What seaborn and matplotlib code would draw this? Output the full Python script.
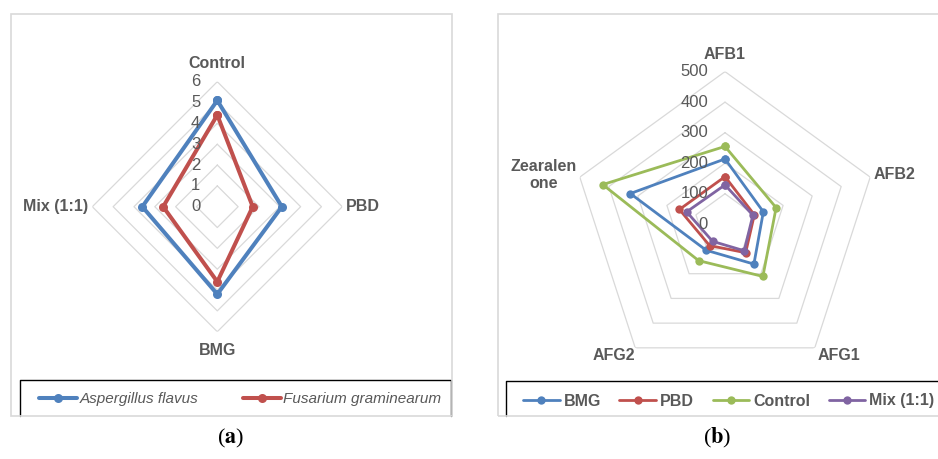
import numpy as np
import pandas as pd
import matplotlib
matplotlib.use("Agg")
import matplotlib.pyplot as plt
from matplotlib.lines import Line2D
from matplotlib.patches import Rectangle
import seaborn as sns

sns.set_theme(style="white")
plt.rcParams["font.family"] = ["Liberation Sans", "DejaVu Sans"]
plt.rcParams["mathtext.fontset"] = "stix"

# ---- data: panel (a) ----
cats_a = ["Control", "PBD", "BMG", "Mix (1:1)"]
aspergillus = [5.1, 3.1, 4.2, 3.6]
fusarium = [4.4, 1.7, 3.6, 2.6]
series_a = ["Aspergillus flavus", "Fusarium graminearum"]
ticks_a = [0, 1, 2, 3, 4, 5, 6]

# ---- data: panel (b) ----
cats_b = ["AFB1", "AFB2", "AFG1", "AFG2", "Zearalen\none"]
bmg = [214, 132, 161, 105, 326]
pbd = [156, 101, 115, 86, 157]
control = [255, 176, 211, 147, 421]
mix = [129, 96, 107, 69, 132]
series_b = ["BMG", "PBD", "Control", "Mix (1:1)"]
ticks_b = [0, 100, 200, 300, 400, 500]

BLUE, RED, GREEN, PURPLE = "#4F81BD", "#C0504D", "#9BBB59", "#8064A2"
GRID = "#D9D9D9"
TXT = "#595959"

W, H = 938, 459
fig = plt.figure(figsize=(W / 100, H / 100), dpi=100)


def fx(px):
    return px / W


def fy(py):
    return 1 - py / H


def long_frame(cats, series_names, values):
    """One row per vertex, repeating the first vertex at 2*pi to close each loop."""
    n = len(cats)
    rows = []
    for name, vals in zip(series_names, values):
        for i in range(n):
            rows.append((name, 2 * np.pi * i / n, vals[i]))
        rows.append((name, 2 * np.pi, vals[0]))
    return pd.DataFrame(rows, columns=["series", "theta", "value"])


def radar_axes(cx, cy, rad, rmax, ticks, n):
    ax = fig.add_axes([fx(cx - rad), fy(cy + rad), 2 * rad / W, 2 * rad / H],
                      projection="polar")
    ax.set_theta_offset(np.pi / 2)
    ax.set_theta_direction(-1)
    ax.set_ylim(0, rmax)
    ax.grid(False)
    ax.spines["polar"].set_visible(False)
    ax.set_xticks([])
    ax.set_yticks([])
    ax.patch.set_alpha(0)
    th = np.linspace(0, 2 * np.pi, n + 1)
    for t in ticks:
        if t > 0:
            ax.plot(th, [t] * (n + 1), color=GRID, lw=0.9, zorder=1)
        ax.annotate(str(t), xy=(0, t), xytext=(-17, 0), textcoords="offset pixels",
                    ha="right", va="center", fontsize=12, color=TXT, zorder=5)
    return ax


# ---- panel frames ----
fig.add_artist(Rectangle((fx(11), fy(416)), fx(452) - fx(11), fy(14) - fy(416),
                         transform=fig.transFigure, fill=False, ec=GRID, lw=1.2, zorder=10))
fig.add_artist(Rectangle((fx(498), fy(416)), fx(960) - fx(498), fy(14) - fy(416),
                         transform=fig.transFigure, fill=False, ec=GRID, lw=1.2, zorder=10))

# ---- panel (a) ----
ax_a = radar_axes(217.3, 206.7, 125, 6, ticks_a, len(cats_a))
df_a = long_frame(cats_a, series_a, [aspergillus, fusarium])
sns.lineplot(data=df_a, x="theta", y="value", hue="series", hue_order=series_a,
             palette=[BLUE, RED], sort=False, estimator=None, marker="o",
             markersize=6.5, markeredgewidth=0, linewidth=2.9, legend=False,
             ax=ax_a, zorder=3)
ax_a.set_xlabel("")
ax_a.set_ylabel("")
ax_a.set_ylim(0, 6)
lab_a = [((0, 11), "center", "bottom"), ((4, 0), "left", "center"),
         ((0, -11), "center", "top"), ((-4, 0), "right", "center")]
for i, (c, (off, ha, va)) in enumerate(zip(cats_a, lab_a)):
    ax_a.annotate(c, xy=(2 * np.pi * i / len(cats_a), 6), xytext=off,
                  textcoords="offset pixels", ha=ha, va=va, fontsize=11.5,
                  fontweight="bold", color=TXT, annotation_clip=False)

# ---- panel (b) ----
ax_b = radar_axes(725, 224.3, 152.7, 500, ticks_b, len(cats_b))
df_b = long_frame(cats_b, series_b, [bmg, pbd, control, mix])
sns.lineplot(data=df_b, x="theta", y="value", hue="series", hue_order=series_b,
             palette=[BLUE, RED, GREEN, PURPLE], sort=False, estimator=None,
             marker="o", markersize=6, markeredgewidth=0, linewidth=2.0,
             legend=False, ax=ax_b, zorder=3)
ax_b.set_xlabel("")
ax_b.set_ylabel("")
ax_b.set_ylim(0, 500)
lab_b = [((0, 10), "center", "bottom"), ((3, 3), "left", "center"),
         ((3, 0), "left", "top"), ((0, 0), "right", "top"), ((-3, 2), "right", "center")]
for i, (c, (off, ha, va)) in enumerate(zip(cats_b, lab_b)):
    ax_b.annotate(c, xy=(2 * np.pi * i / len(cats_b), 500), xytext=off,
                  textcoords="offset pixels", ha=ha, va=va, fontsize=11.5,
                  fontweight="bold", color=TXT, multialignment="center",
                  annotation_clip=False, linespacing=1.2)

# ---- legend boxes (open at the bottom where the panel frame cuts them) ----
fig.add_artist(Line2D([fx(20), fx(20), fx(450.5), fx(450.5)],
                      [fy(416), fy(380), fy(380), fy(416)],
                      transform=fig.transFigure, color="black", lw=1.0, zorder=9))
fig.add_artist(Line2D([fx(506), fx(506), fx(960)],
                      [fy(416), fy(381), fy(381)],
                      transform=fig.transFigure, color="black", lw=1.0, zorder=9))


def handle(color, lw, ms):
    return Line2D([], [], color=color, lw=lw, marker="o", markersize=ms,
                  markeredgewidth=0)


leg_a = fig.legend([handle(BLUE, 2.9, 6.5), handle(RED, 2.9, 6.5)], series_a,
                   loc="center left", bbox_to_anchor=(fx(39), fy(399)), ncol=2,
                   frameon=False, handlelength=2.5, handletextpad=0.15,
                   columnspacing=2.9, borderpad=0, borderaxespad=0,
                   prop={"size": 11, "style": "italic"})
for t in leg_a.get_texts():
    t.set_color(TXT)

leg_b = fig.legend([handle(c, 2.0, 6) for c in (BLUE, RED, GREEN, PURPLE)], series_b,
                   loc="center left", bbox_to_anchor=(fx(523), fy(401)), ncol=4,
                   frameon=False, handlelength=2.3, handletextpad=0.25,
                   columnspacing=1.15, borderpad=0, borderaxespad=0,
                   prop={"size": 11.5, "weight": "bold"})
for t in leg_b.get_texts():
    t.set_color(TXT)

# ---- captions ----
for x, letter in ((231, "a"), (717, "b")):
    fig.text(fx(x), fy(438), r"($\mathbf{" + letter + r"}$)", ha="center", va="center",
             fontsize=16, family="Liberation Serif", color="black")

fig.savefig("out.png", dpi=100)
